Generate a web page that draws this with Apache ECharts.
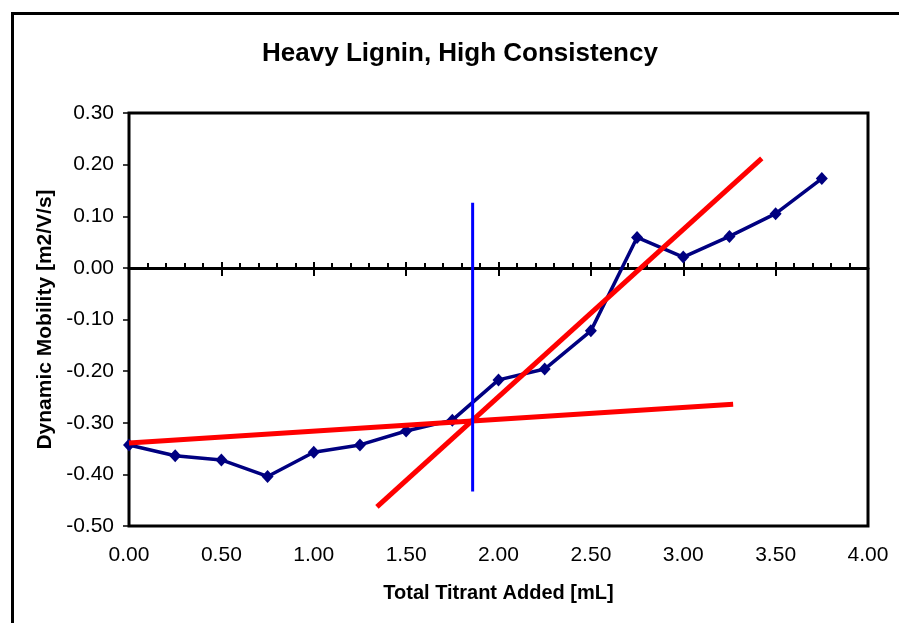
<!DOCTYPE html>
<html>
<head>
<meta charset="utf-8">
<style>
  html, body { margin: 0; padding: 0; background: #fff; }
  #chart { width: 899px; height: 623px; }
</style>
<script src="https://cdn.jsdelivr.net/npm/echarts@6/dist/echarts.min.js"></script>
</head>
<body>
<div id="chart"></div>
<script>
// measured titrant volume (mL) and dynamic mobility
const titrant = [0, 0.25, 0.5, 0.75, 1.0, 1.25, 1.5, 1.75, 2.0, 2.25, 2.5, 2.75, 3.0, 3.25, 3.5, 3.75];
const mobility = [-0.343, -0.364, -0.372, -0.404, -0.357, -0.343, -0.316, -0.295, -0.217, -0.196, -0.122, 0.059, 0.021, 0.061, 0.105, 0.173];

// fitted trend lines, [x, y] end points
const flatFit = [[0, -0.339], [3.27, -0.264]];
const steepFit = [[1.342, -0.463], [3.425, 0.212]];
// equivalence point marker
const eqPoint = [[1.86, -0.433], [1.86, 0.126]];

const xTicks = { min: 0, max: 4, interval: 0.5 };
const yTicks = { min: -0.5, max: 0.3, interval: 0.1 };

const font = "Liberation Sans, Arial, sans-serif";
const plotHeight = 413;
// pixel distance from top of plot down to y = 0 (for the downward half of the cross ticks)
const zeroOffset = (yTicks.max / (yTicks.max - yTicks.min)) * plotHeight;

const chart = echarts.init(document.getElementById("chart"));

const hiddenX = {
  type: "value",
  min: xTicks.min,
  max: xTicks.max,
  interval: xTicks.interval,
  axisLabel: { show: false },
  splitLine: { show: false },
};

chart.setOption({
  animation: false,
  backgroundColor: "#fff",
  title: {
    text: "Heavy Lignin, High Consistency",
    left: 455,
    top: 36,
    textAlign: "center",
    textStyle: { fontFamily: font, fontSize: 26, fontWeight: "bold", color: "#000" },
  },
  graphic: [
    {
      type: "rect",
      shape: { x: 12.5, y: 13.5, width: 1000, height: 1000 },
      style: { fill: "none", stroke: "#000", lineWidth: 3 },
      silent: true,
    },
  ],
  grid: {
    left: 129,
    top: 113,
    width: 739,
    height: plotHeight,
    show: true,
    borderColor: "#000",
    borderWidth: 3,
    backgroundColor: "#fff",
  },
  xAxis: [
    {
      ...hiddenX,
      position: "bottom",
      axisLine: { show: false, onZero: false },
      axisTick: { show: false },
      axisLabel: {
        show: true,
        fontFamily: font,
        fontSize: 21,
        color: "#000",
        margin: 19,
        formatter: (v) => v.toFixed(2),
      },
      name: "Total Titrant Added [mL]",
      nameLocation: "middle",
      nameGap: 57,
      nameTextStyle: { fontFamily: font, fontSize: 20, fontWeight: "bold", color: "#000" },
    },
    {
      // zero line with upward ticks
      ...hiddenX,
      position: "bottom",
      axisLine: { show: true, onZero: true, lineStyle: { color: "#000", width: 3 } },
      axisTick: { show: true, inside: true, length: 6, lineStyle: { color: "#000", width: 2 } },
      minorTick: { show: true, splitNumber: 5, length: 5, lineStyle: { color: "#000", width: 2 } },
    },
    {
      // downward half of the major cross ticks
      ...hiddenX,
      position: "top",
      offset: -zeroOffset,
      axisLine: { show: false, onZero: false },
      axisTick: { show: true, inside: true, length: 8, lineStyle: { color: "#000", width: 2 } },
    },
  ],
  yAxis: {
    type: "value",
    min: yTicks.min,
    max: yTicks.max,
    interval: yTicks.interval,
    axisLine: { show: false },
    axisTick: { show: true, length: 6, lineStyle: { color: "#000", width: 1.5 } },
    splitLine: { show: false },
    axisLabel: {
      fontFamily: font,
      fontSize: 21,
      color: "#000",
      margin: 15,
      formatter: (v) => v.toFixed(2),
    },
    name: "Dynamic Mobility [m2/V/s]",
    nameLocation: "middle",
    nameGap: 71,
    nameTextStyle: { fontFamily: font, fontSize: 21, fontWeight: "bold", color: "#000" },
  },
  series: [
    {
      type: "line",
      data: titrant.map((x, i) => [x, mobility[i]]),
      lineStyle: { color: "#000080", width: 3.5 },
      itemStyle: { color: "#000080" },
      symbol: "diamond",
      symbolSize: [12, 13],
      z: 3,
    },
    {
      type: "line",
      data: flatFit,
      showSymbol: false,
      lineStyle: { color: "#ff0000", width: 5 },
      z: 4,
    },
    {
      type: "line",
      data: steepFit,
      showSymbol: false,
      lineStyle: { color: "#ff0000", width: 5 },
      z: 4,
    },
    {
      type: "line",
      data: eqPoint,
      showSymbol: false,
      lineStyle: { color: "#0000ff", width: 3 },
      z: 5,
    },
  ],
});
</script>
</body>
</html>
